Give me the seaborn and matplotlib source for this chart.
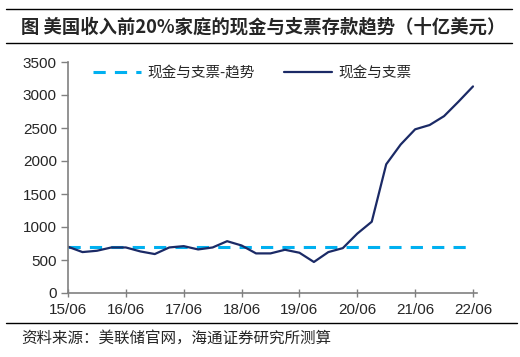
import numpy as np
import pandas as pd
import seaborn as sns
import matplotlib.pyplot as plt
import matplotlib.lines as mlines

TITLE = '图 美国收入前20%家庭的现金与支票存款趋势（十亿美元）'
SOURCE = '资料来源：美联储官网，海通证券研究所测算'

# quarterly, 2015Q2 .. 2022Q2
quarters = ['15Q2', '15Q3', '15Q4', '16Q1', '16Q2', '16Q3', '16Q4', '17Q1', '17Q2', '17Q3',
            '17Q4', '18Q1', '18Q2', '18Q3', '18Q4', '19Q1', '19Q2', '19Q3', '19Q4', '20Q1',
            '20Q2', '20Q3', '20Q4', '21Q1', '21Q2', '21Q3', '21Q4', '22Q1', '22Q2']
cash = [701, 620, 640, 690, 690, 630, 590, 690, 710, 660,
        690, 785, 720, 600, 600, 655, 610, 470, 620, 680,
        900, 1080, 1950, 2250, 2480, 2545, 2680, 2900, 3130]
trend = [700] * len(quarters)
tick_labels = ['15/06', '16/06', '17/06', '18/06', '19/06', '20/06', '21/06', '22/06']

LABEL_TREND = '现金与支票-趋势'
LABEL_CASH = '现金与支票'

sns.set_style('white')
plt.rcParams['font.family'] = ['Liberation Sans', 'Noto Sans CJK SC', 'DejaVu Sans']

df = pd.DataFrame({'q': np.arange(len(quarters)), LABEL_TREND: trend, LABEL_CASH: cash})

fig = plt.figure(figsize=(5.2, 3.57), dpi=100)
ax = fig.add_axes([68 / 520, 1 - 293 / 357, (477 - 68) / 520, (293 - 62) / 357])

sns.lineplot(data=df, x='q', y=LABEL_TREND, ax=ax, color='#00B0F0', lw=2.2,
             linestyle=(0, (4, 3)), label=LABEL_TREND)
sns.lineplot(data=df, x='q', y=LABEL_CASH, ax=ax, color='#1B2A66', lw=1.6, label=LABEL_CASH)

ax.set_xlim(0, 28 + 4 / 14.46)
ax.set_ylim(0, 3500)
ax.set_yticks(np.arange(0, 3501, 500))
ax.set_xticks(np.arange(0, 29, 4))
ax.set_xticklabels(tick_labels)
ax.set_xlabel('')
ax.set_ylabel('')
for s in ['top', 'right']:
    ax.spines[s].set_visible(False)
for s in ['left', 'bottom']:
    ax.spines[s].set_color('#808080')
    ax.spines[s].set_linewidth(1.2)
ax.tick_params(axis='y', left=True, length=5, width=1, color='#808080', pad=3, labelsize=11)
ax.tick_params(axis='x', bottom=True, direction='inout', length=6, width=1, color='#808080',
               pad=4, labelsize=11)

leg = ax.legend(loc='upper left', bbox_to_anchor=(0.028, 1.04), ncol=2, frameon=False,
                handlelength=3.3, columnspacing=2.0, handletextpad=0.45,
                prop={'family': ['Noto Sans CJK SC', 'DejaVu Sans'], 'size': 10.5})

# title, rules and source
fig.add_artist(mlines.Line2D([6 / 520, 512 / 520], [1 - 9 / 357, 1 - 9 / 357], color='black', lw=1))
fig.add_artist(mlines.Line2D([6 / 520, 512 / 520], [1 - 43 / 357, 1 - 43 / 357], color='black', lw=1))
fig.add_artist(mlines.Line2D([6 / 520, 517 / 520], [1 - 323 / 357, 1 - 323 / 357], color='black', lw=1))
fig.text(21 / 520, 1 - 27 / 357, TITLE, fontsize=13.2, fontweight='bold', va='center', ha='left',
         family=['Noto Sans CJK SC', 'DejaVu Sans'])
fig.text(21 / 520, 1 - 338 / 357, SOURCE, fontsize=11.2, va='center', ha='left',
         family=['Noto Sans CJK SC', 'DejaVu Sans'])

fig.savefig('out.png', dpi=100)
